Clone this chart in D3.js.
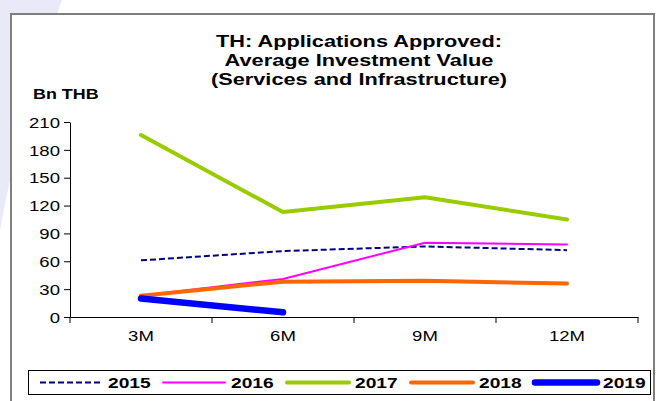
<!DOCTYPE html>
<html>
<head>
<meta charset="utf-8">
<script src="https://cdn.jsdelivr.net/npm/d3@7"></script>
<style>
  body { margin: 0; background: #fff; }
  svg { display: block; font-family: "Liberation Sans", Arial, sans-serif; }
</style>
</head>
<body>
<div id="chart"></div>
<script>
// data
const categories = ["3M", "6M", "9M", "12M"];
const v2015 = [61, 71, 76, 72];
const v2016 = [23, 41, 80, 78];
const v2017 = [196, 113, 129, 105];
const v2018 = [23, 38, 39, 36];
const v2019 = [20, 5];
const yTicks = [0, 30, 60, 90, 120, 150, 180, 210];

const seriesList = [
  { name: "2015", values: v2015, color: "#000080", width: 2, dash: "6,3" },
  { name: "2016", values: v2016, color: "#ff00ff", width: 2, dash: null },
  { name: "2017", values: v2017, color: "#99cc00", width: 4, dash: null },
  { name: "2018", values: v2018, color: "#ff6600", width: 4, dash: null },
  { name: "2019", values: v2019, color: "#0000ff", width: 6.5, dash: null }
];

const W = 665, H = 401;
const SX = 1.28; // the original text is drawn wide
const svg = d3.select("#chart").append("svg")
  .attr("width", W).attr("height", H);

// faint background decoration, top-left
svg.append("path")
  .attr("d", "M0,0 L62,0 Q22,110 0,230 Z")
  .attr("fill", "#e9e9f7");

// outer frame
svg.append("rect")
  .attr("x", 11).attr("y", 14)
  .attr("width", 643).attr("height", 400)
  .attr("fill", "#fff")
  .attr("stroke", "#7f7f7f").attr("stroke-width", 2);

// put a wide text at (x,y)
function wideText(g, x, y, txt, size, bold, anchor) {
  return g.append("text")
    .attr("transform", `translate(${x},${y}) scale(${SX},1)`)
    .attr("text-anchor", anchor || "start")
    .attr("font-size", size)
    .attr("font-weight", bold ? "bold" : "normal")
    .attr("fill", "#000")
    .text(txt);
}

// title
const title = ["TH: Applications Approved:", "Average Investment Value", "(Services and Infrastructure)"];
title.forEach((t, i) => wideText(svg, 359, 47 + i * 19, t, 17, true, "middle"));

wideText(svg, 33, 99, "Bn THB", 14, true);

// scales
const x = d3.scaleBand().domain(categories).range([70, 638]);
const y = d3.scaleLinear().domain([0, 210]).range([317, 122]);

// axes
const yAxis = svg.append("g")
  .attr("transform", "translate(70,0)")
  .call(d3.axisLeft(y).tickValues(yTicks).tickSize(6).tickSizeOuter(0));
yAxis.selectAll("line, path").attr("stroke", "#000");
yAxis.selectAll("text")
  .attr("x", 0).attr("dy", "0.36em")
  .attr("transform", `translate(-10,0) scale(${SX},1)`)
  .attr("font-size", 14.5).attr("fill", "#000")
  .attr("font-family", "Liberation Sans, Arial, sans-serif");

const xAxis = svg.append("g")
  .attr("transform", "translate(0,317)")
  .call(d3.axisBottom(x).tickSize(0));
xAxis.select(".domain").attr("stroke", "#000");
xAxis.selectAll("text")
  .attr("y", 0).attr("dy", 0)
  .attr("transform", `translate(0,24) scale(${SX},1)`)
  .attr("font-size", 14.5).attr("fill", "#000")
  .attr("font-family", "Liberation Sans, Arial, sans-serif");
// tick marks on band boundaries
const bounds = categories.map(c => x(c)).concat([x.range()[1]]);
svg.append("g").selectAll("line")
  .data(bounds).enter().append("line")
  .attr("x1", d => d).attr("x2", d => d)
  .attr("y1", 317).attr("y2", 323)
  .attr("stroke", "#000");

// lines
const line = d3.line()
  .x((d, i) => x(categories[i]) + x.bandwidth() / 2)
  .y(d => y(d));

svg.append("g").selectAll("path")
  .data(seriesList).enter().append("path")
  .attr("d", s => line(s.values))
  .attr("fill", "none")
  .attr("stroke", s => s.color)
  .attr("stroke-width", s => s.width)
  .attr("stroke-dasharray", s => s.dash)
  .attr("stroke-linecap", s => s.dash ? "butt" : "round")
  .attr("stroke-linejoin", "round");

// legend
svg.append("rect")
  .attr("x", 28.5).attr("y", 370.5)
  .attr("width", 622).attr("height", 24)
  .attr("fill", "#fff").attr("stroke", "#000").attr("stroke-width", 1);

const legendX = [40, 163, 287, 411, 535];
const lg = svg.append("g").selectAll("g")
  .data(seriesList).enter().append("g")
  .attr("transform", (d, i) => `translate(${legendX[i]},382.5)`);
lg.append("line")
  .attr("x1", 0).attr("x2", 62).attr("y1", 0).attr("y2", 0)
  .attr("stroke", s => s.color)
  .attr("stroke-width", s => s.width)
  .attr("stroke-dasharray", s => s.dash)
  .attr("stroke-linecap", s => s.dash ? "butt" : "round");
lg.each(function(s) {
  wideText(d3.select(this), 68, 5.5, s.name, 15, true);
});
</script>
</body>
</html>
